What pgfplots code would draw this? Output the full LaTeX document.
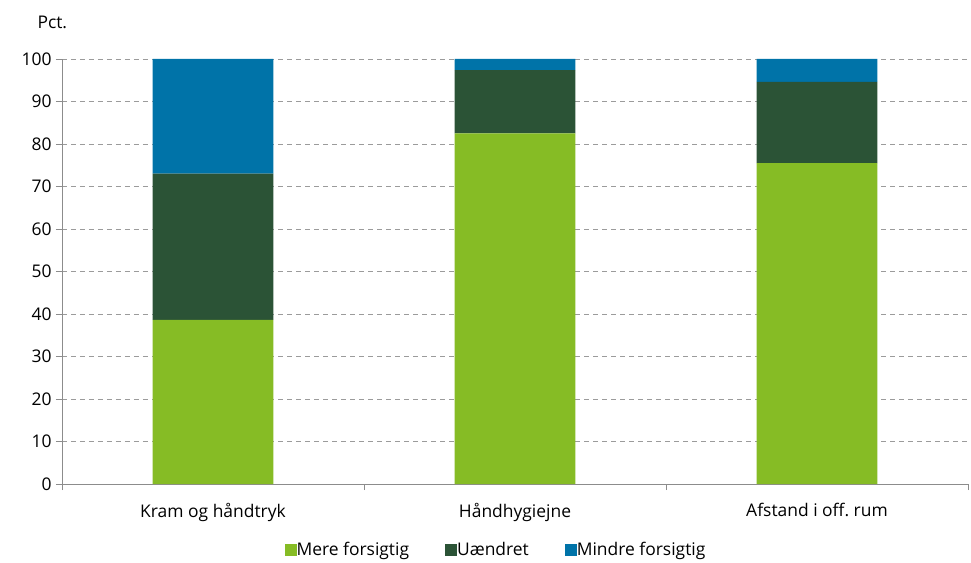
\documentclass[border=0pt]{standalone}
\usepackage{pgfplots}
\pgfplotsset{compat=1.18}
\usepackage{fontspec}
\setmainfont{Open Sans}

\definecolor{mere}{RGB}{134,188,37}
\definecolor{uaendret}{RGB}{43,83,54}
\definecolor{mindre}{RGB}{0,115,168}
\definecolor{axisgray}{RGB}{140,140,140}
\definecolor{gridgray}{RGB}{155,155,155}

\newcommand{\lblfont}{\fontsize{17.5}{20}\selectfont}

\begin{document}
\begin{tikzpicture}[x=1bp,y=1bp]
\begin{axis}[
  scale only axis,
  width=906bp, height=425bp,
  at={(0,0)}, anchor=south west,
  ybar stacked,
  bar width=0.4,
  xmin=0, xmax=3,
  ymin=0, ymax=100,
  axis lines=left,
  axis line style={axisgray, -},
  xtick={0.5,1.5,2.5},
  xticklabels={Kram og håndtryk, Håndhygiejne, Afstand i off.\ rum},
  minor xtick={0,1,2,3},
  major x tick style={draw=none},
  minor x tick style={axisgray},
  minor tick length=6bp,
  x tick label style={yshift=-10bp},
  y tick label style={xshift=-1bp},
  ytick={0,10,...,100},
  y tick style={axisgray},
  major tick length=6bp,
  tick align=outside,
  ymajorgrids,
  grid style={gridgray, dash pattern=on 5bp off 4bp},
  tick label style={font=\lblfont, black},
  /pgf/number format/assume math mode=true,
  legend style={
    at={(0.479,-0.155)}, anchor=center,
    draw=none, legend columns=-1,
    font=\lblfont,
    /tikz/every odd column/.append style={column sep=-2bp},
    /tikz/every even column/.append style={column sep=34bp},
  },
  legend image code/.code={\fill[#1] (0bp,-6bp) rectangle (12bp,6bp);},
  clip=false,
]
\addplot[fill=mere, draw=none] coordinates {(0.5,38.6) (1.5,82.5) (2.5,75.5)};
\addplot[fill=uaendret, draw=none] coordinates {(0.5,34.4) (1.5,14.9) (2.5,19.1)};
\addplot[fill=mindre, draw=none] coordinates {(0.5,27.0) (1.5,2.6) (2.5,5.4)};
\legend{Mere forsigtig, Uændret, Mindre forsigtig}
\node[anchor=west, font=\lblfont] at ([xshift=-28bp, yshift=37bp]rel axis cs:0,1) {Pct.};
\end{axis}
\pgfresetboundingbox
\path[use as bounding box] (-62bp,-79bp) rectangle (909bp,484bp);
\end{tikzpicture}
\end{document}
